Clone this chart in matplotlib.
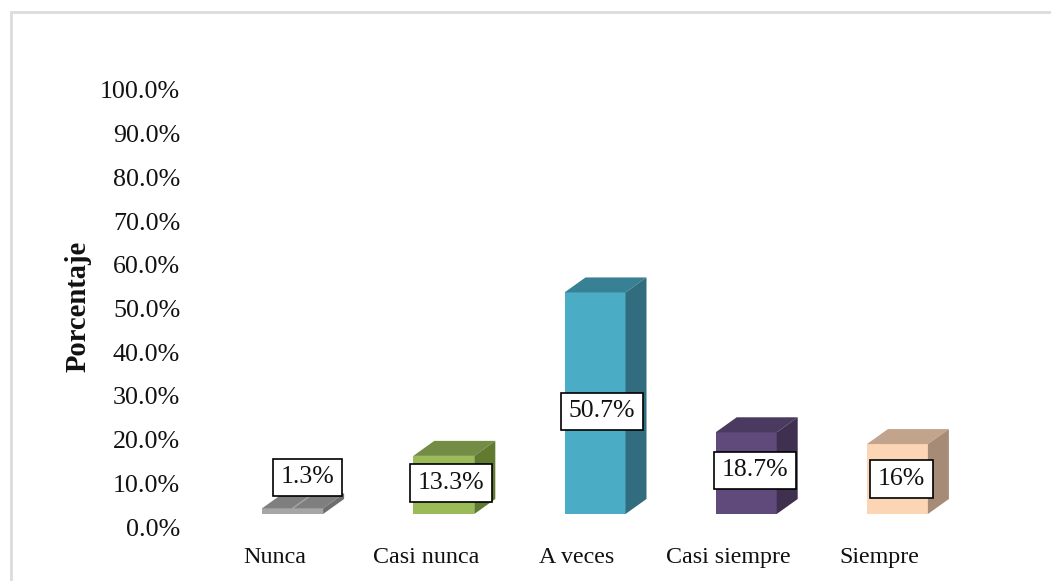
import matplotlib
matplotlib.use("Agg")
import matplotlib.pyplot as plt
import matplotlib.transforms as mtrans
from matplotlib.patches import Polygon, Rectangle

categories = ["Nunca", "Casi nunca", "A veces", "Casi siempre", "Siempre"]
values = [1.3, 13.3, 50.7, 18.7, 16.0]
value_labels = ["1.3%", "13.3%", "50.7%", "18.7%", "16%"]
y_ticks = [0, 10, 20, 30, 40, 50, 60, 70, 80, 90, 100]

front_colors = ["#a6a6a6", "#9bbb59", "#4bacc6", "#604a7b", "#fcd5b5"]
top_colors = ["#7f7f7f", "#748c43", "#388195", "#4a3a5f", "#c2a48c"]
side_colors = ["#6e6e6e", "#607a30", "#316d7f", "#3f3050", "#a68c76"]

# label box centre, offset in pixels from the top centre of the front face (up is positive)
label_dx = [15, 7, 7, 9, 4]
label_dy = [31, -27, -119, -38, -35]

W, H = 1051, 581
fig = plt.figure(figsize=(W / 100, H / 100), dpi=100)
plt.rcParams["font.family"] = ["Liberation Serif", "DejaVu Serif"]

# axes placed so that 0 is the front baseline of the bars
left, right, bottom, top = 217, 973, 514, 77
ax = fig.add_axes([left / W, 1 - bottom / H, (right - left) / W, (bottom - top) / H])
ax.set_xlim(-0.5, 4.5)
ax.set_ylim(0, 100)
ax.patch.set_alpha(0)
for s in ax.spines.values():
    s.set_visible(False)

px_x = 5 / (right - left)
px_y = 100 / (bottom - top)
bar_w = 61 * px_x
depth_x = 21 * px_x
depth_y = 15 * px_y

for i, v in enumerate(values):
    ax.bar(i, v, width=bar_w, color=front_colors[i], linewidth=0, zorder=2)
    l, r = i - bar_w / 2, i + bar_w / 2
    ax.add_patch(Polygon([(l, v), (r, v), (r + depth_x, v + depth_y), (l + depth_x, v + depth_y)],
                         closed=True, fc=top_colors[i], ec="none", zorder=2))
    ax.add_patch(Polygon([(r, 0), (r + depth_x, depth_y), (r + depth_x, v + depth_y), (r, v)],
                         closed=True, fc=side_colors[i], ec="none", zorder=2))

# seam on the flat gray bar
ax.plot([0, depth_x], [values[0], values[0] + depth_y], color="#a6a6a6", lw=1, zorder=3)

for i, v in enumerate(values):
    ax.annotate(value_labels[i], xy=(i, v), xytext=(label_dx[i] * 0.72, label_dy[i] * 0.72),
                textcoords="offset points", ha="center", va="center", fontsize=18.5,
                family="Liberation Serif", color="#111111", zorder=5,
                bbox=dict(boxstyle="square,pad=0.3", fc="white", ec="black", lw=1.2))

ax.set_yticks(y_ticks)
ax.set_yticklabels([f"{t:.1f}%" for t in y_ticks])
ax.set_xticks(range(len(categories)))
ax.set_xticklabels(categories)
ax.tick_params(axis="x", length=0, labelsize=17.3, pad=24)
ax.tick_params(axis="y", length=0, labelsize=18.7, pad=26.5)

down = mtrans.ScaledTranslation(0, -13 / 100, fig.dpi_scale_trans)
for lab in ax.get_yticklabels():
    lab.set_transform(lab.get_transform() + down)
    lab.set_color("#111111")
shift = mtrans.ScaledTranslation(-18 / 100, 0, fig.dpi_scale_trans)
for lab in ax.get_xticklabels():
    lab.set_transform(lab.get_transform() + shift)
    lab.set_color("#111111")

fig.text(78 / W, 1 - 306 / H, "Porcentaje", rotation=90, ha="center", va="center",
         fontsize=20.6, fontweight="bold", color="#111111")

# chart frame, cut by the image edge
fig.add_artist(Rectangle((11 / W, -0.1), 1.2, 1 - 12 / H + 0.1, transform=fig.transFigure,
                         fc="none", ec="#dcdcdc", lw=2))

fig.savefig("out.png", dpi=100)
